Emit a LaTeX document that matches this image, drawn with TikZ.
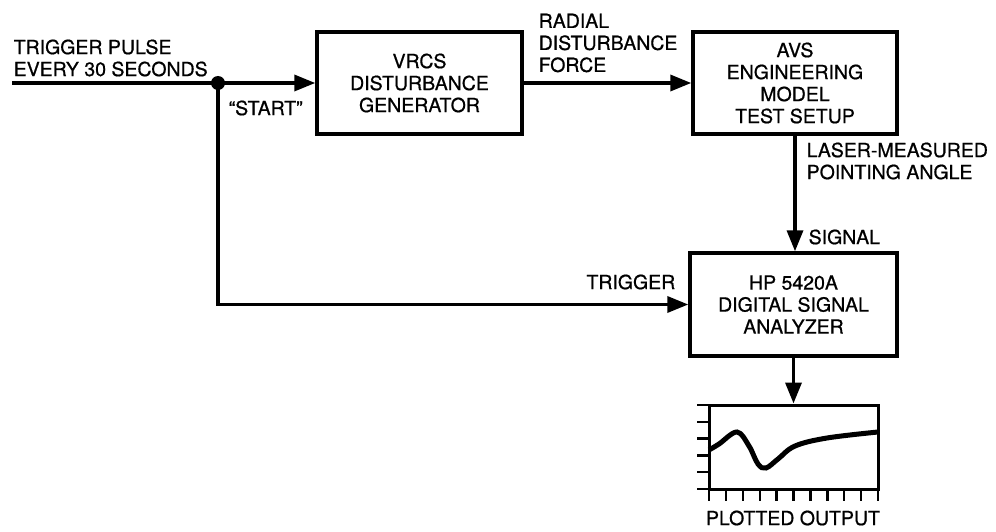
\documentclass[tikz,border=0pt]{standalone}
\usepackage{fontspec}
\setmainfont{TeX Gyre Heros}[UprightFeatures={FakeBold=0.7}]
\usetikzlibrary{arrows.meta}

\begin{document}
\begin{tikzpicture}[x=1pt,y=-1pt,line width=3.4pt,
    blok/.style={draw,line width=3.4pt,align=center,inner sep=0pt,
      font=\fontsize{19.5}{22}\selectfont},
    lbl/.style={align=left,inner sep=0pt,font=\fontsize{19.5}{22}\selectfont},
    pijl/.style={-{Triangle[length=21pt,width=16pt]}}]
    \useasboundingbox (0,0) rectangle (996,532);
    % blocks
    \node[blok,minimum width=205pt,minimum height=102pt] (gen) at (419.5,83) {VRCS\\DISTURBANCE\\GENERATOR};
    \node[blok,minimum width=204pt,minimum height=102pt] (avs) at (795,83) {AVS\\ENGINEERING\\MODEL\\TEST SETUP};
    \node[blok,minimum width=207pt,minimum height=103pt] (hp) at (793.5,304.5) {HP 5420A\\DIGITAL SIGNAL\\ANALYZER};
    \node[draw,line width=3pt,minimum width=169pt,minimum height=84pt,inner sep=0pt] (scherm) at (793.5,447) {};
    \coordinate (in) at (12,83);
    \coordinate (split) at (218,83);
    % connections
    \draw (in) -- (split);
    \fill (split) circle (7);
    \draw[pijl] (split) -- (gen.west);
    \draw[pijl] (gen) -- (avs);
    \draw[pijl] (avs.south) -- (avs.south |- hp.north);
    \draw[pijl] (split) |- (hp.west);
    \draw[pijl] (hp.south) -- (scherm.north);
    % labels
    \node[lbl,anchor=west] (puls) at (12,58) {TRIGGER PULSE\\EVERY 30 SECONDS};
    \node[lbl,anchor=west] (start) at (227,108) {``START''};
    \node[lbl,anchor=west] (kracht) at (537,43) {RADIAL\\DISTURBANCE\\FORCE};
    \node[lbl,anchor=west] (laser) at (805,161) {LASER-MEASURED\\POINTING ANGLE};
    \node[lbl,anchor=west] (sig) at (807,237) {SIGNAL};
    \node[lbl,anchor=east] (trig) at (677,282) {TRIGGER};
    \node[lbl] (uit) at (793,518) {PLOTTED OUTPUT};
    % plot ticks and trace
    \foreach \k in {0,...,5}
      \draw[line width=2.4pt] (697,405+16.8*\k) -- (709,405+16.8*\k);
    \foreach \k in {0,...,10}
      \draw[line width=2.4pt] (709+16.9*\k,489) -- (709+16.9*\k,501);
    \draw[line width=5pt] plot[smooth,tension=0.6] coordinates {(709,450) (719,444) (737,432) (749,446) (758,464) (766,468) (778,459) (795,446) (827,438) (878,432)};
\end{tikzpicture}
\end{document}
